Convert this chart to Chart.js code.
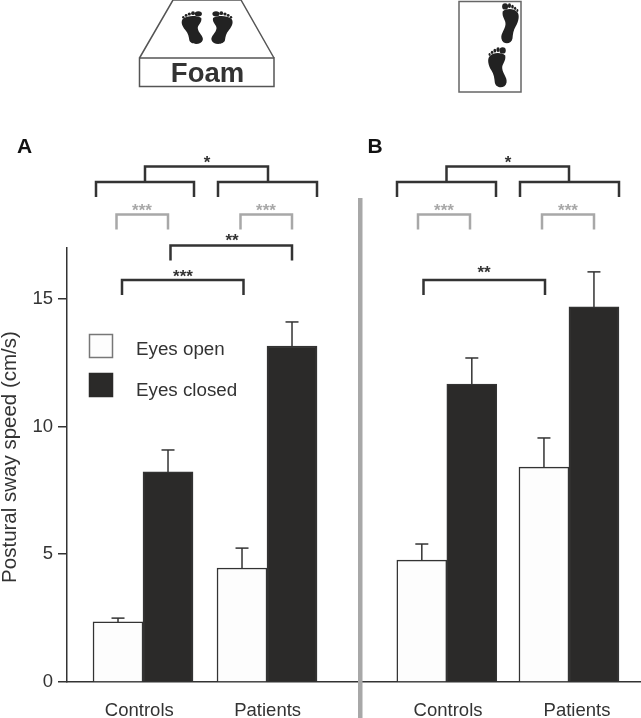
<!DOCTYPE html>
<html>
<head>
<meta charset="utf-8">
<style>
  html, body { margin: 0; padding: 0; background: #fff; }
  canvas { display: block; }
</style>
<script src="https://cdn.jsdelivr.net/npm/chart.js@4"></script>
</head>
<body>
<canvas id="swayChart" width="641" height="718"></canvas>
<script>
// order: panel A controls, panel A patients, panel B controls, panel B patients
const categories = ['Controls', 'Patients', 'Controls', 'Patients'];
const groupPositions = [0, 1, 2.45, 3.435];
const tickPositions = [-0.03, 1.005, 2.46, 3.5];
const eyesOpen = [2.35, 4.46, 4.77, 8.41];
const eyesClosed = [8.22, 13.15, 11.66, 14.68];
const eyesOpenTop = [2.5, 5.24, 5.4, 9.55];
const eyesClosedTop = [9.08, 14.09, 12.68, 16.05];
const yTicks = [0, 5, 10, 15];

const FONT = '"Liberation Sans", Arial, sans-serif';
const INK = '#333333';
const DARK = '#2b2a29';
const GREY = '#a8a8a8';

function line(ctx, pts, color, width) {
  ctx.strokeStyle = color;
  ctx.lineWidth = width;
  ctx.lineJoin = 'miter';
  ctx.beginPath();
  pts.forEach((p, i) => i ? ctx.lineTo(p[0], p[1]) : ctx.moveTo(p[0], p[1]));
  ctx.stroke();
}

function text(ctx, str, x, y, font, color, align) {
  ctx.font = font;
  ctx.fillStyle = color;
  ctx.textAlign = align || 'center';
  ctx.textBaseline = 'alphabetic';
  ctx.fillText(str, x, y);
}

// significance bracket with stars above
function bracket(ctx, x1, x2, top, color, stars, starX, starY) {
  line(ctx, [[x1, top + 15], [x1, top], [x2, top], [x2, top + 15]], color, 2.5);
  if (stars) text(ctx, stars, starX, starY, 'bold 17px ' + FONT, color);
}

// footprint, big toe on the left unless flipped
function foot(ctx, x, y, sx, sy, flip) {
  ctx.save();
  ctx.translate(x, y);
  ctx.scale(flip ? -sx : sx, sy);
  ctx.fillStyle = '#222';
  ctx.beginPath();
  ctx.moveTo(2, 7);
  ctx.bezierCurveTo(7, 4, 16, 4.5, 20, 7.5);
  ctx.bezierCurveTo(23, 10, 21.5, 15, 18, 19);
  ctx.bezierCurveTo(15, 22, 14.5, 26, 14, 29);
  ctx.bezierCurveTo(13, 34, 2, 34.5, 0.5, 29);
  ctx.bezierCurveTo(-0.5, 25, 5, 22, 5.5, 17.5);
  ctx.bezierCurveTo(6, 14, 1, 12, 2, 7);
  ctx.fill();
  [[5, 2.8, 3.6, 2.6], [10.3, 2.2, 1.9, 1.9], [14, 3, 1.6, 1.6], [17.2, 4.4, 1.4, 1.4], [20, 6.2, 1.2, 1.2]].forEach(t => {
    ctx.beginPath();
    ctx.ellipse(t[0], t[1], t[2], t[3], 0, 0, Math.PI * 2);
    ctx.fill();
  });
  ctx.restore();
}

const decorations = {
  id: 'decorations',
  afterDraw(chart) {
    const ctx = chart.ctx;
    const y = chart.scales.y;

    // error bars
    [eyesOpenTop, eyesClosedTop].forEach((tops, d) => {
      chart.getDatasetMeta(d).data.forEach((bar, i) => {
        const yTop = y.getPixelForValue(tops[i]);
        line(ctx, [[bar.x, bar.y], [bar.x, yTop]], INK, 1.5);
        line(ctx, [[bar.x - 6.5, yTop], [bar.x + 6.5, yTop]], INK, 1.5);
      });
    });

    // axis title
    ctx.save();
    ctx.translate(16, 457);
    ctx.rotate(-Math.PI / 2);
    text(ctx, 'Postural sway speed (cm/s)', 0, 0, '20.5px ' + FONT, INK);
    ctx.restore();

    // foam pictogram
    line(ctx, [[139.5, 58], [173, 0], [241, 0], [274, 58]], '#555', 1.5);
    ctx.strokeStyle = '#555';
    ctx.lineWidth = 1.5;
    ctx.strokeRect(139.5, 58, 134.5, 28.5);
    text(ctx, 'Foam', 207.5, 82, 'bold 27.5px ' + FONT, INK);
    foot(ctx, 211, 11, 1, 1, false);
    foot(ctx, 203.3, 11, 1, 1, true);

    // firm surface pictogram
    ctx.strokeStyle = '#666';
    ctx.strokeRect(459, 1.5, 62, 90.5);
    foot(ctx, 501, 3, 0.82, 1.22, false);
    foot(ctx, 507, 47, 0.87, 1.22, true);

    // panel letters
    text(ctx, 'A', 24.5, 153, 'bold 21px ' + FONT, '#111');
    text(ctx, 'B', 375, 153, 'bold 21px ' + FONT, '#111');

    // divider
    ctx.fillStyle = GREY;
    ctx.fillRect(358, 198, 4.5, 520);

    // brackets panel A
    line(ctx, [[145, 182], [145, 166.5], [268, 166.5], [268, 182]], INK, 2.5);
    text(ctx, '*', 207, 168, 'bold 17px ' + FONT, INK);
    bracket(ctx, 96, 194, 182, INK);
    bracket(ctx, 218, 317, 182, INK);
    bracket(ctx, 116.5, 168, 214.5, GREY, '***', 142, 216);
    bracket(ctx, 240.5, 292, 214.5, GREY, '***', 266, 216);
    bracket(ctx, 170.5, 292, 245.5, INK, '**', 232, 246);
    bracket(ctx, 122, 243.5, 280, INK, '***', 183, 282);

    // brackets panel B
    line(ctx, [[446.5, 182], [446.5, 166.5], [569, 166.5], [569, 182]], INK, 2.5);
    text(ctx, '*', 508, 168, 'bold 17px ' + FONT, INK);
    bracket(ctx, 397, 496, 182, INK);
    bracket(ctx, 520, 619, 182, INK);
    bracket(ctx, 418, 470, 214.5, GREY, '***', 444, 216);
    bracket(ctx, 542, 594, 214.5, GREY, '***', 568, 216);
    bracket(ctx, 423.5, 545, 280, INK, '**', 484, 278);

    // legend
    chart.data.datasets.forEach((ds, i) => {
      const top = 334.5 + i * 39;
      ctx.fillStyle = ds.backgroundColor;
      ctx.fillRect(89.5, top, 23, 23);
      ctx.strokeStyle = i ? DARK : '#777';
      ctx.lineWidth = 1.5;
      ctx.strokeRect(89.5, top, 23, 23);
      text(ctx, ds.label, 136, 355 + i * 41, '18.8px ' + FONT, INK, 'left');
    });
  }
};

new Chart(document.getElementById('swayChart'), {
  type: 'bar',
  data: {
    datasets: [{
      label: 'Eyes open',
      data: eyesOpen.map((v, i) => ({ x: groupPositions[i], y: v })),
      backgroundColor: '#fdfdfd',
      borderColor: INK,
      borderWidth: 1.5
    }, {
      label: 'Eyes closed',
      data: eyesClosed.map((v, i) => ({ x: groupPositions[i], y: v })),
      backgroundColor: DARK,
      borderColor: INK,
      borderWidth: 1.5
    }]
  },
  options: {
    responsive: false,
    animation: false,
    layout: { padding: { top: 247.6, left: 0, right: 0, bottom: 0 } },
    plugins: { legend: { display: false }, tooltip: { enabled: false } },
    datasets: { bar: { barThickness: 50 } },
    scales: {
      x: {
        type: 'linear',
        offset: false,
        min: -0.613,
        max: 4.016,
        grid: { display: false, offset: false },
        border: { color: INK, width: 1.5 },
        afterBuildTicks: s => { s.ticks = tickPositions.map(value => ({ value })); },
        afterFit: s => { s.height = 36; },
        ticks: {
          autoSkip: false,
          maxRotation: 0,
          padding: 10,
          color: INK,
          font: { family: FONT, size: 18.5 },
          callback: (v, i) => categories[i]
        }
      },
      y: {
        min: 0,
        max: 17,
        afterBuildTicks: s => { s.ticks = yTicks.map(value => ({ value })); },
        afterFit: s => { s.width = 67; },
        grid: { drawOnChartArea: false, tickLength: 9, color: INK, lineWidth: 1.5 },
        border: { color: INK, width: 1.5 },
        ticks: {
          padding: 5,
          color: INK,
          font: { family: FONT, size: 18.5 }
        }
      }
    }
  },
  plugins: [decorations]
});
</script>
</body>
</html>
